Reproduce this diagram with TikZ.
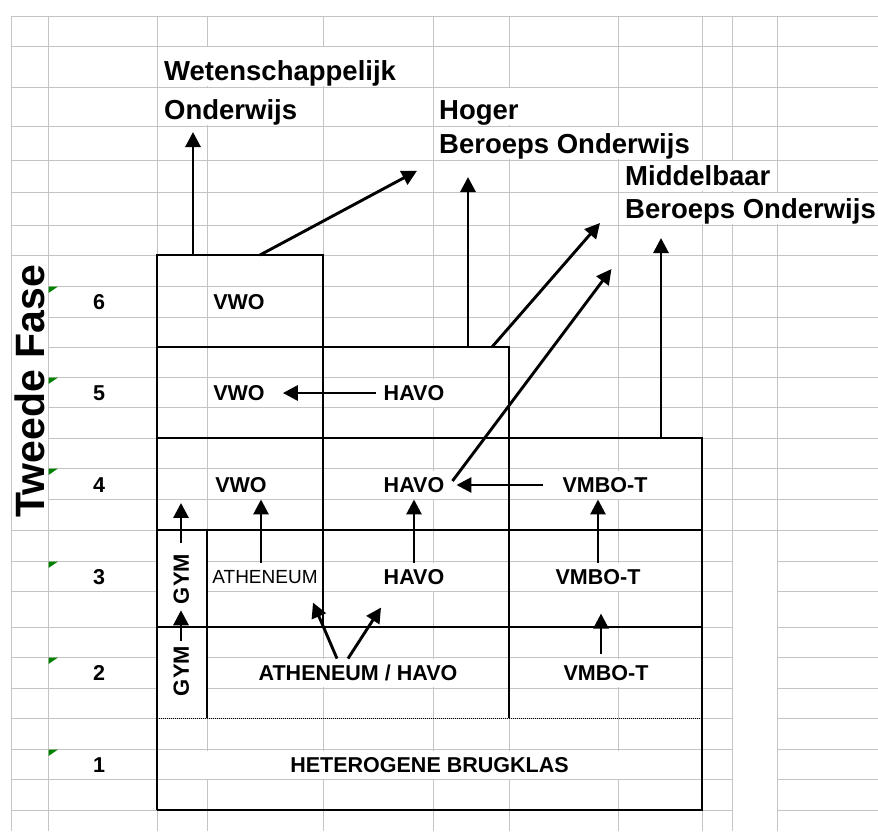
\documentclass[tikz,border=0pt]{standalone}
\usepackage{fontspec}
\setmainfont{Liberation Sans}
\usetikzlibrary{arrows.meta}
\definecolor{gridgray}{RGB}{196,196,196}
\definecolor{markgreen}{RGB}{0,128,0}
\begin{document}
\begin{tikzpicture}[x=1pt,y=-1pt,
  cell/.style={fill=white,inner xsep=2pt,inner ysep=0pt,minimum height=28.5pt,text height=15.5pt,text depth=0pt,font=\bfseries\fontsize{21.5}{24}\selectfont},
  num/.style={inner sep=0pt,text height=15.5pt,text depth=0pt,font=\bfseries\fontsize{21.5}{24}\selectfont},
  gym/.style={rotate=90,inner sep=0pt,text height=15.5pt,text depth=0pt,font=\bfseries\fontsize{22}{24}\selectfont},
  dest/.style={anchor=south west,fill=white,inner sep=0pt,text depth=5pt,font=\bfseries\fontsize{27.5}{30}\selectfont},
  box/.style={line width=1.5pt},
  arr/.style={line width=2.9pt,-{Triangle[length=15pt,width=15pt]}}]
\useasboundingbox (0,0) rectangle (878,831);
\foreach \x in {11,48,157,207,323,433,509,618,702,732,777} \draw[gridgray,line width=1pt] (\x,16) -- (\x,831);
\foreach \y in {16,46,87,126,160,192,225,255,286,317,347,377,407,438,468,499,530,561,591,627,657,688,718,749,779,810} \draw[gridgray,line width=1pt] (11,\y) -- (878,\y);
\fill[white] (11.5,255.5) rectangle (47.5,529.5);
\fill[white] (732.5,530.5) rectangle (776.5,831);
\fill[white] (157,530) rectangle (207,718);
\foreach \y in {286,377,468,561,657,749} \fill[markgreen] (48.5,\y+0.5) -- ++(9.5,0) -- ++(-9.5,6.5) -- cycle;

\node[rotate=90,inner sep=0pt,font=\bfseries\fontsize{41}{45}\selectfont] (fase) at (30,391) {Tweede Fase};
\node[num] (n6) at (99,302) {6};
\node[num] (n5) at (99,393) {5};
\node[num] (n4) at (99,485) {4};
\node[num] (n3) at (99,577) {3};
\node[num] (n2) at (99,673) {2};
\node[num] (n1) at (99,765) {1};

\node[dest,text height=34pt] (wo1) at (164,86) {Wetenschappelijk};
\node[dest,text height=32pt] (wo2) at (164,125) {Onderwijs};
\node[dest,text height=32pt] (hbo1) at (439,125) {Hoger};
\node[dest,text height=27pt] (hbo2) at (439,159) {Beroeps Onderwijs};
\node[dest,text height=25pt] (mbo1) at (625,191) {Middelbaar};
\node[dest,text height=26pt] (mbo2) at (625,224) {Beroeps Onderwijs};

\node[cell] (vwoVI) at (239,302) {VWO};
\node[cell] (vwoV) at (239,393) {VWO};
\node[cell] (havoV) at (414,393) {HAVO};
\node[cell] (vwoIV) at (241,485) {VWO};
\node[cell] (havoIV) at (414,485) {HAVO};
\node[cell] (vmboIV) at (605,485) {VMBO-T};
\node[cell,text height=13.6pt,font=\fontsize{19}{22}\selectfont] (athIII) at (265,577) {ATHENEUM};
\node[cell] (havoIII) at (414,577) {HAVO};
\node[cell] (vmboIII) at (598,577) {VMBO-T};
\node[gym] (gymIII) at (181,579) {GYM};
\node[gym] (gymII) at (181,671) {GYM};
\node[cell] (athhavoII) at (358,673) {ATHENEUM / HAVO};
\node[cell] (vmboII) at (606,673) {VMBO-T};
\node[cell,minimum width=540pt] (brug) at (429.5,765) {HETEROGENE BRUGKLAS};

\draw[box] (157,810) |- (323,255) -- (323,627);
\draw[box] (157,347) -| (509,718);
\draw[box] (157,438) -| (702,810) -- (157,810);
\draw[box] (157,530) -- (702,530);
\draw[box,line width=2.2pt] (157,627) -- (702,627);
\draw[box] (207,530) -- (207,718);
\draw[line width=1pt,dash pattern=on 1pt off 1pt] (157,718) -- (702,718);

\coordinate (vwotop) at (193,255);
\coordinate (vwotopr) at (260,255);
\coordinate (havotop) at (468,347);
\coordinate (havotopr) at (492,347);
\coordinate (vmbotop) at (661,438);
\draw[arr,shorten >=7pt] (vwotop) -- (vwotop |- wo2.south);
\draw[arr,shorten >=25pt] (vwotopr) -- (hbo2.south west);
\draw[arr,shorten >=18pt] (havotop) -- (havotop |- hbo2.south);
\draw[arr] (havotopr) -- ++(108,-124);
\draw[arr] ([xshift=6pt,yshift=4pt]havoIV.east) -- ++(159,-212);
\draw[arr,shorten >=14pt] (vmbotop) -- (vmbotop |- mbo2.south);
\draw[arr,shorten <=6pt,shorten >=16pt] (havoV.west) -- (vwoV.east);
\draw[arr,shorten <=17pt,shorten >=10pt] (vmboIV.west) -- (havoIV.east);
\draw[arr,shorten <=11pt,shorten >=3.5pt] (gymIII.east) -- (gymIII.east |- vwoIV.south);
\draw[arr,shorten <=5pt,shorten >=6pt] (gymII.east) -- (gymIII.west);
\draw[arr] ([xshift=-4pt]athIII.north) -- ([xshift=-4pt]athIII.north |- vwoIV.south);
\draw[arr] (havoIII.north) -- (havoIV.south);
\draw[arr] (vmboIII.north) -- (vmboIII.north |- vmboIV.south);
\draw[arr] ([xshift=-5pt,yshift=5pt]vmboII.north) -- ++(0,-40);
\draw[arr] ([xshift=-21pt]athhavoII.north) -- ++(-24,-56);
\draw[arr] ([xshift=-10pt]athhavoII.north) -- ++(33,-51);
\end{tikzpicture}
\end{document}
